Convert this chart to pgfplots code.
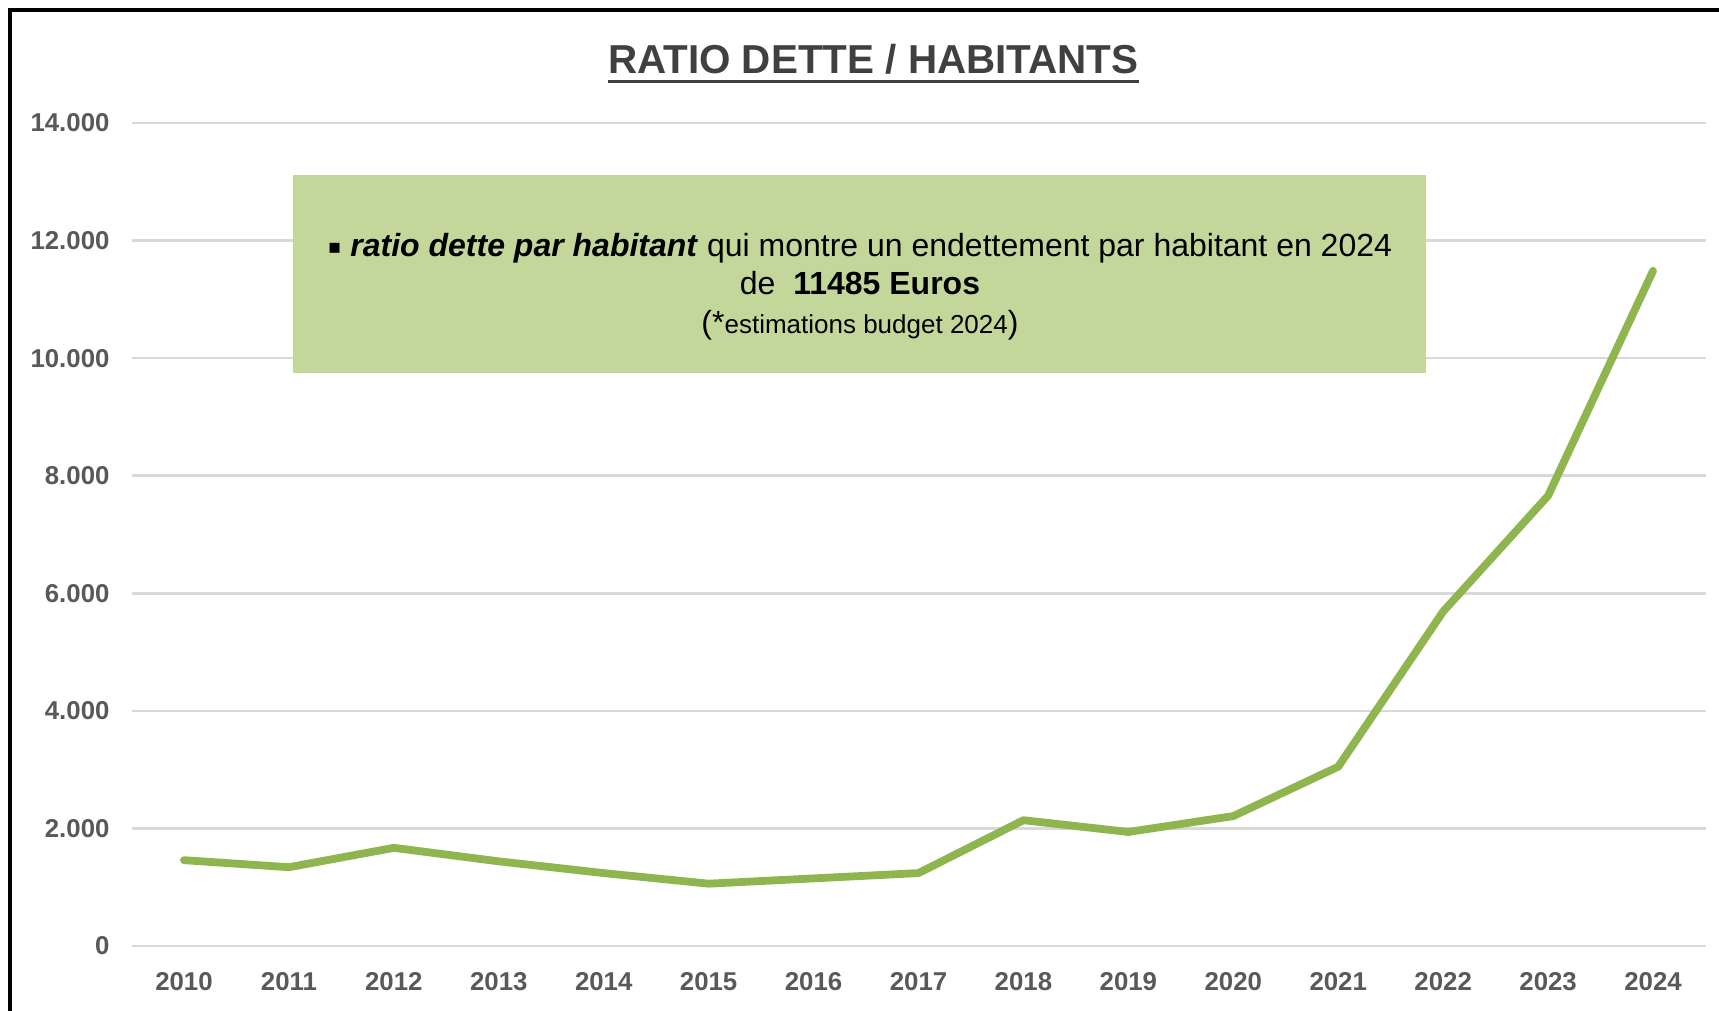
\documentclass[border=0pt]{standalone}
\usepackage{pgfplots}
\pgfplotsset{compat=1.18}
\usepackage{fontspec}
\setmainfont{Liberation Sans}
\newfontfamily\dejavu{DejaVu Sans}
\definecolor{linegreen}{RGB}{143,182,78}
\definecolor{boxgreen}{RGB}{196,215,155}
\definecolor{gridgray}{RGB}{217,217,217}
\definecolor{tickgray}{RGB}{89,89,89}
\definecolor{titlegray}{RGB}{64,64,64}
\begin{document}
\begin{tikzpicture}
\useasboundingbox (0,0) rectangle (859.5bp,505.5bp);
\fill[white] (0,0) rectangle (859.5bp,505.5bp);
\begin{axis}[
  at={(65.75bp,32.5bp)}, anchor=south west,
  scale only axis, width=787bp, height=411.5bp,
  xmin=-0.5, xmax=14.5, ymin=0, ymax=14000,
  xtick={0,...,14},
  xticklabels={2010,2011,2012,2013,2014,2015,2016,2017,2018,2019,2020,2021,2022,2023,2024},
  ytick={0,2000,4000,6000,8000,10000,12000,14000},
  yticklabels={0,2.000,4.000,6.000,8.000,10.000,12.000,14.000},
  scaled y ticks=false,
  axis line style={draw=none}, major tick length=0pt,
  ymajorgrids, grid style={gridgray, line width=1.3bp},
  tick label style={font=\fontsize{12.9bp}{14bp}\selectfont\bfseries, text=tickgray},
  xticklabel style={yshift=-9.5bp},
  yticklabel style={xshift=-7.5bp},
  clip=false,
]
\addplot[linegreen, line width=3.9bp, line join=round, line cap=round] coordinates {
(0,1460) (1,1340) (2,1670) (3,1440) (4,1240) (5,1060) (6,1150) (7,1240)
(8,2140) (9,1940) (10,2210) (11,3050) (12,5690) (13,7660) (14,11485)
};
\end{axis}
\draw[black, line width=1.75bp] (5bp,0) -- (5bp,500.5bp) -- (859.5bp,500.5bp);
\node[anchor=base, inner sep=0, font=\fontsize{20.2bp}{24bp}\selectfont\bfseries, text=titlegray] (T) at (436.6bp,468.5bp) {RATIO DETTE / HABITANTS};
\draw[titlegray, line width=1.8bp] ([yshift=-3.75bp]T.base west) -- ([yshift=-3.75bp]T.base east);
\fill[boxgreen] (146.4bp,319.2bp) rectangle (713.2bp,417.8bp);
\node[anchor=base, inner sep=0, font=\fontsize{16bp}{19bp}\selectfont] at (430bp,377.2bp)
  {{\dejavu\fontsize{10bp}{12bp}\selectfont\raisebox{1.5bp}{▪}} \textbf{\textit{ratio dette par habitant}} qui montre un endettement par habitant en 2024};
\node[anchor=base, inner sep=0, font=\fontsize{16bp}{19bp}\selectfont] at (430bp,358bp)
  {de\ \ \textbf{11485 Euros}};
\node[anchor=base, inner sep=0, font=\fontsize{16bp}{19bp}\selectfont] at (430bp,338.5bp)
  {(*{\fontsize{13bp}{14bp}\selectfont estimations budget 2024})};
\end{tikzpicture}
\end{document}
